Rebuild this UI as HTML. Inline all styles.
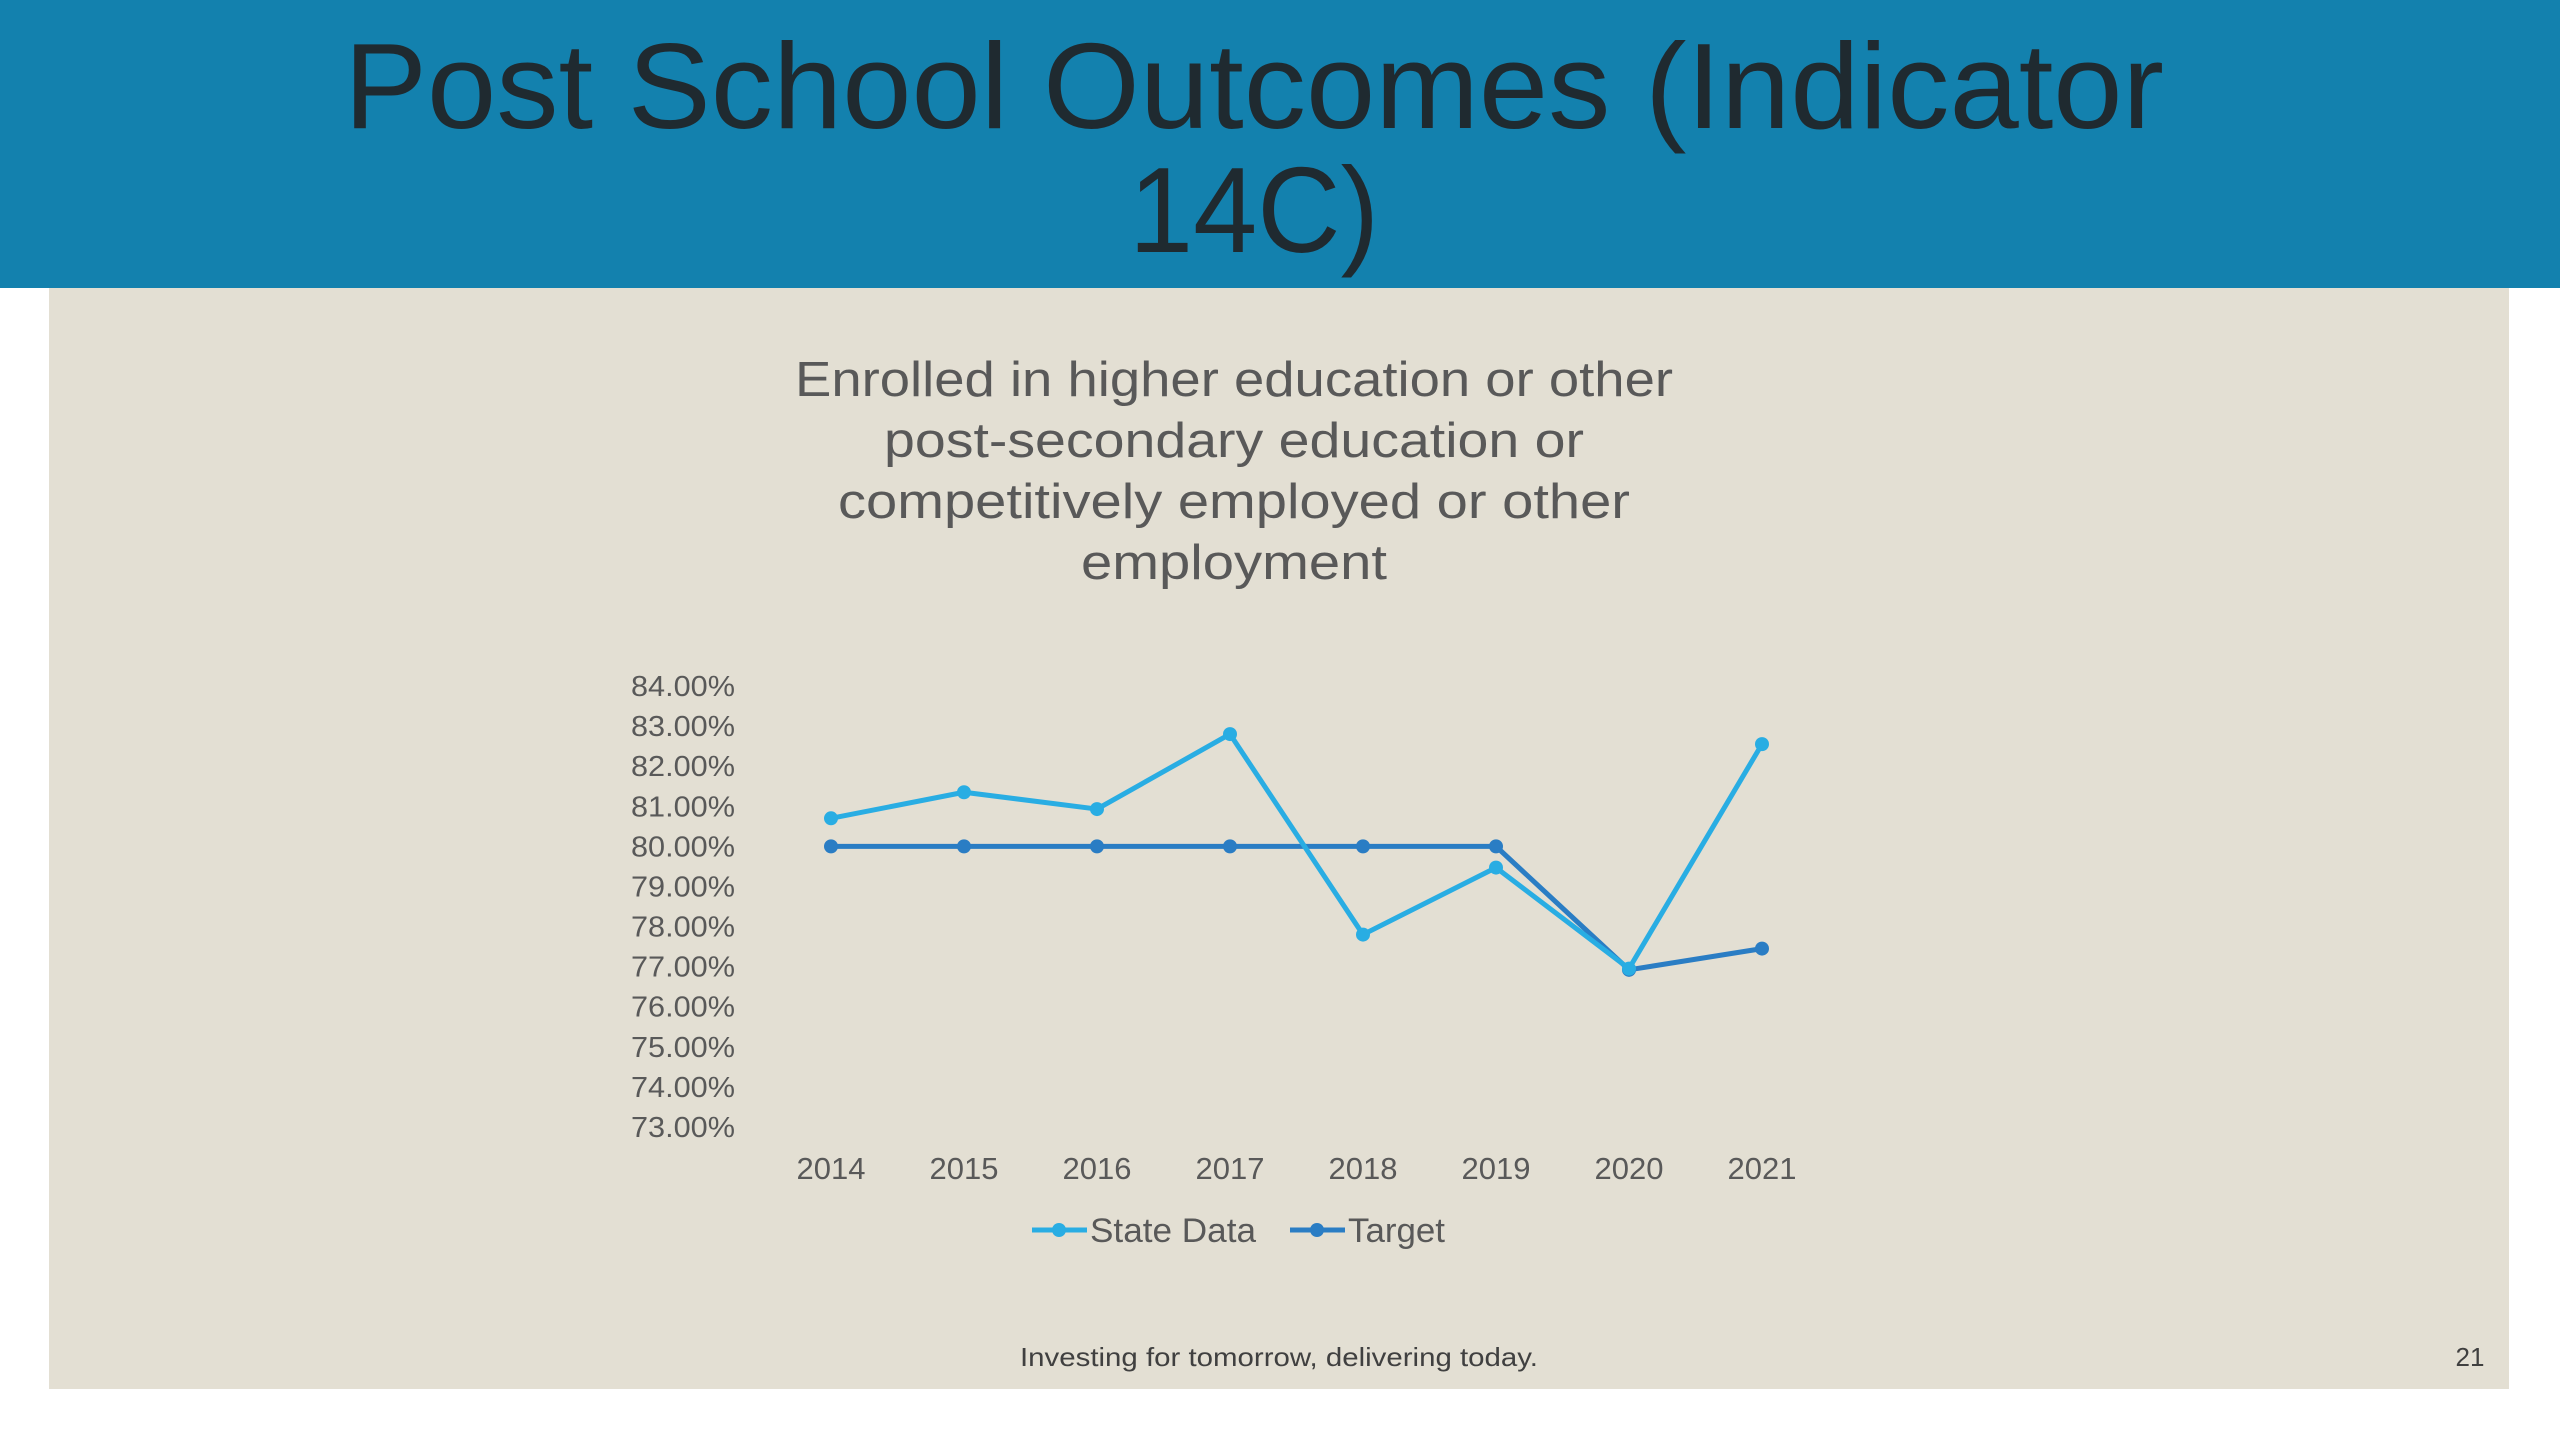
<!DOCTYPE html>
<html><head><meta charset="utf-8"><style>
html,body{margin:0;padding:0;background:#fff;width:2560px;height:1440px;overflow:hidden}
svg{display:block;font-family:"Liberation Sans",sans-serif}
</style></head><body>
<svg id="s" width="2560" height="1440" viewBox="0 0 2560 1440">
<rect x="0" y="0" width="2560" height="288" fill="#1381ae"/>
<text x="1254" y="128" text-anchor="middle" font-size="122" fill="#1f2a30" textLength="1820" lengthAdjust="spacingAndGlyphs">Post School Outcomes (Indicator</text>
<text x="1254" y="252" text-anchor="middle" font-size="122" fill="#1f2a30" textLength="250" lengthAdjust="spacingAndGlyphs">14C)</text>
<rect x="49" y="288" width="2460" height="1101" fill="#e3dfd3"/>
<g fill="#595959" font-size="49" text-anchor="middle">
<text x="1234" y="396" textLength="878" lengthAdjust="spacingAndGlyphs">Enrolled in higher education or other</text>
<text x="1234" y="457" textLength="700" lengthAdjust="spacingAndGlyphs">post-secondary education or</text>
<text x="1234" y="518" textLength="792" lengthAdjust="spacingAndGlyphs">competitively employed or other</text>
<text x="1234" y="579" textLength="306" lengthAdjust="spacingAndGlyphs">employment</text>
</g>
<g id="chart"></g>
<text x="1279" y="1366" text-anchor="middle" font-size="26" fill="#404040" textLength="518" lengthAdjust="spacingAndGlyphs">Investing for tomorrow, delivering today.</text>
<text x="2470" y="1366" text-anchor="middle" font-size="26" fill="#404040">21</text>
</svg>
<script>
const categories = ["2014","2015","2016","2017","2018","2019","2020","2021"];
const stateData = [80.7, 81.35, 80.93, 82.8, 77.8, 79.47, 76.95, 82.55];
const targetData = [80, 80, 80, 80, 80, 80, 76.92, 77.45];
const yTicks = [84, 83, 82, 81, 80, 79, 78, 77, 76, 75, 74, 73];
const yMin = 73, yMax = 84;
const NS = "http://www.w3.org/2000/svg";
const g = document.getElementById("chart");
function y(v){ return 1127 - (v - yMin) / (yMax - yMin) * (1127 - 686); }
function x(i){ return 831 + i * (1762 - 831) / (categories.length - 1); }
function mk(tag, attrs){ const e = document.createElementNS(NS, tag); for (const k in attrs) e.setAttribute(k, attrs[k]); g.appendChild(e); return e; }
yTicks.forEach(v => {
  const t = mk("text", {x: 735, y: y(v) + 10, "text-anchor": "end", "font-size": 29, fill: "#595959", textLength: 104, lengthAdjust: "spacingAndGlyphs"});
  
  
  t.textContent = v.toFixed(2) + "%";
});
categories.forEach((c, i) => {
  const t = mk("text", {x: x(i), y: 1179, "text-anchor": "middle", "font-size": 31, fill: "#595959"});
  
  
  t.textContent = c;
});
function series(data, color, name){
  const p = mk("polyline", {points: data.map((v, i) => x(i) + "," + y(v)).join(" "), fill: "none", stroke: color, "stroke-width": 5, "stroke-linejoin": "round"});
  
  
  data.forEach((v, i) => {
    const c = mk("circle", {cx: x(i), cy: y(v), r: 7, fill: color});
    
    
  });
}
series(targetData, "#2a7dc4", "target");
series(stateData, "#29ade3", "state-data");
function legend(x0, color, label, name, w){
  const l = mk("line", {x1: x0, y1: 1230, x2: x0 + 55, y2: 1230, stroke: color, "stroke-width": 5});
  
  
  const c = mk("circle", {cx: x0 + 27, cy: 1230, r: 7, fill: color});
  
  
  const t = mk("text", {x: x0 + 58, y: 1242, "font-size": 34, fill: "#595959", textLength: w, lengthAdjust: "spacingAndGlyphs"});
  
  
  t.textContent = label;
}
legend(1032, "#29ade3", "State Data", "state-data", 166);
legend(1290, "#2a7dc4", "Target", "target", 97);
</script>
</body></html>
